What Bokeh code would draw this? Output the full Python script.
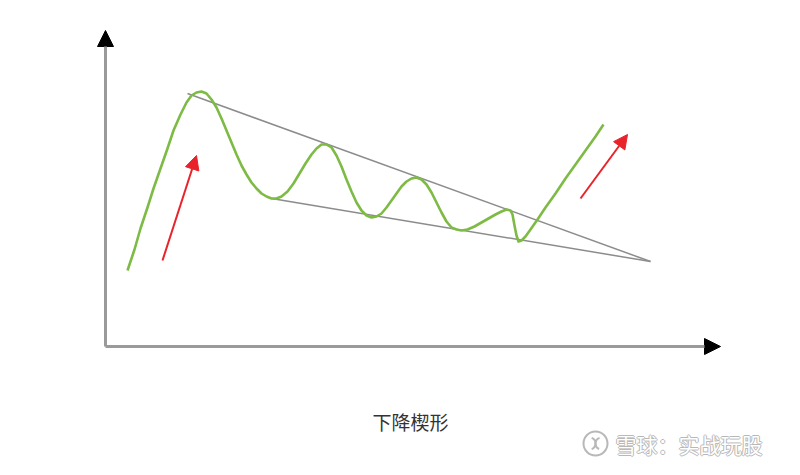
from bokeh.plotting import figure
from bokeh.models import Range1d, Arrow, NormalHead
from bokeh.core.properties import value
from bokeh.embed import file_html
from bokeh.resources import INLINE

# Price path (pixel coordinates, y grows downward)
curve_x = [127, 134, 140, 147, 153, 160, 167, 173, 180, 186, 191, 196, 201, 206, 211, 216,
           221, 226, 231, 236, 241, 246, 251, 256, 261, 266, 271, 276, 281, 287, 293, 299,
           305, 311, 316, 321, 326, 331, 336, 341, 346, 351, 356, 361, 366, 371, 376, 381,
           386, 391, 396, 401, 406, 411, 416, 421, 426, 431, 436, 441, 446, 451, 456, 461,
           467, 474, 481, 488, 495, 501, 506, 510, 512, 514, 516, 518, 521, 525, 530, 537,
           545, 555, 565, 575, 585, 595, 603]
curve_y = [270, 249, 228, 207, 188, 168, 148, 130, 114, 102, 95, 92, 91, 93, 99, 107,
           118, 130, 142, 154, 165, 174, 182, 188, 193, 196, 198, 198, 196, 191, 183, 173,
           163, 154, 148, 144, 144, 147, 155, 166, 179, 191, 202, 210, 215, 217, 216, 213,
           207, 200, 193, 186, 181, 178, 177, 179, 184, 192, 202, 212, 221, 227, 229, 230,
           229, 226, 222, 218, 214, 211, 209, 210, 214, 225, 235, 241, 240, 236, 229, 219,
           207, 193, 178, 164, 150, 136, 124]

# Wedge boundary lines
upper_x = [187, 650]
upper_y = [93, 261]
lower_x = [271, 650]
lower_y = [198, 261]

# Red trend arrows (start -> tip)
arrow_x0 = [162, 580]
arrow_y0 = [260, 198]
arrow_x1 = [196, 627]
arrow_y1 = [155, 134]

# Axes (origin, y tip, x tip)
origin = (105, 346)
y_tip = (105, 30)
x_tip = (720, 346)

caption = "下降楔形"
watermark = "雪球：实战玩股"

p = figure(width=784, height=459, output_backend="svg", toolbar_location=None,
           x_range=Range1d(0, 784), y_range=Range1d(459, 0), min_border=0)
p.axis.visible = False
p.grid.visible = False
p.outline_line_color = None
p.background_fill_color = "white"
p.border_fill_color = "white"

# axes with arrowheads
p.add_layout(Arrow(end=NormalHead(size=16, fill_color="black", line_color="black"),
                   x_start=origin[0], y_start=origin[1], x_end=y_tip[0], y_end=y_tip[1],
                   line_color="#9a9a9a", line_width=3))
p.add_layout(Arrow(end=NormalHead(size=16, fill_color="black", line_color="black"),
                   x_start=origin[0], y_start=origin[1], x_end=x_tip[0], y_end=x_tip[1],
                   line_color="#9a9a9a", line_width=3))

# wedge lines
p.line(upper_x, upper_y, line_color="#8c8c8c", line_width=1.5)
p.line(lower_x, lower_y, line_color="#8c8c8c", line_width=1.5)

# price curve
p.line(curve_x, curve_y, line_color="#7dbb45", line_width=2.6, line_join="round")

# red arrows
for x0, y0, x1, y1 in zip(arrow_x0, arrow_y0, arrow_x1, arrow_y1):
    p.add_layout(Arrow(end=NormalHead(size=14, fill_color="#e8232a", line_color="#e8232a"),
                       x_start=x0, y_start=y0, x_end=x1, y_end=y1,
                       line_color="#e8232a", line_width=2))

# caption
p.text(x=[410], y=[421], text=[caption], text_font=value("Noto Sans CJK SC"),
       text_font_size="19px", text_color="#333333", text_align="center",
       text_baseline="middle")

# watermark (outlined look)
wm_x, wm_y = 615, 443
for dx, dy in [(-1, 0), (1, 0), (0, -1), (0, 1)]:
    p.text(x=[wm_x], y=[wm_y], text=[watermark], text_font=value("Noto Sans CJK SC"),
           text_font_size="21px", text_color="#b8b8b8", text_align="left",
           text_baseline="middle", x_offset=dx, y_offset=dy)
p.text(x=[wm_x], y=[wm_y], text=[watermark], text_font=value("Noto Sans CJK SC"),
       text_font_size="21px", text_color="white", text_align="left",
       text_baseline="middle")
p.scatter(x=[595], y=[wm_y], size=24, marker="circle", fill_color="white",
          line_color="#b8b8b8", line_width=2)
p.arc(x=[589, 601], y=[wm_y, wm_y], radius=6, start_angle=[-1.2, 1.9], end_angle=[1.2, 4.3],
      line_color="#b8b8b8", line_width=2)

open("out.html", "w").write(file_html(p, INLINE))
